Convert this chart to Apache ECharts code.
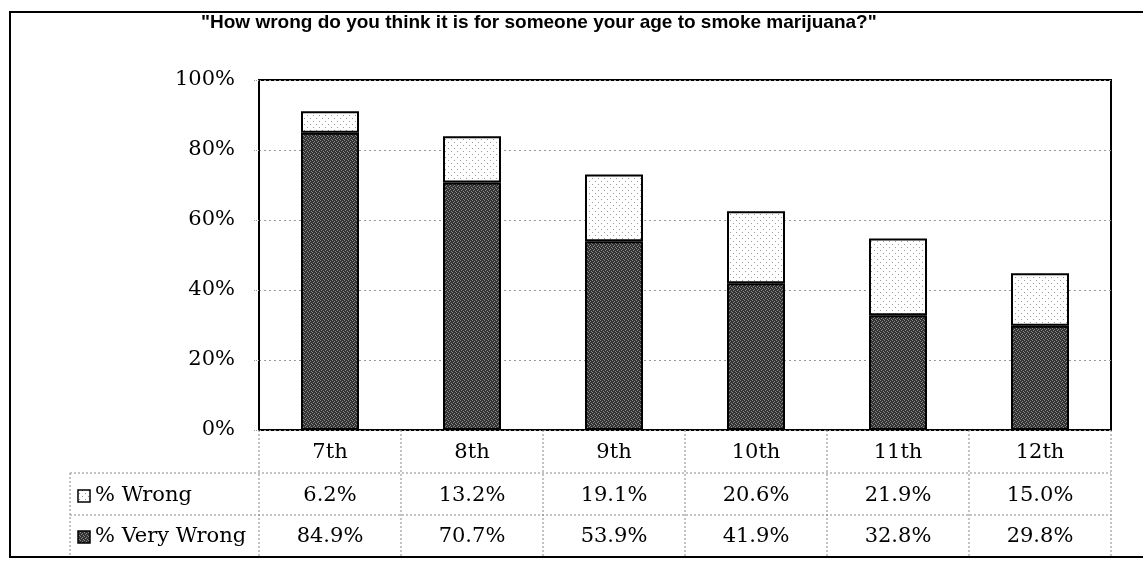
<!DOCTYPE html>
<html><head><meta charset="utf-8">
<script src="https://cdn.jsdelivr.net/npm/echarts@6/dist/echarts.min.js"></script>
<style>html,body{margin:0;padding:0;background:#fff}#c{width:1143px;height:561px}</style>
</head><body><div id="c"></div>
<script>
const titleText = '"How wrong do you think it is for someone your age to smoke marijuana?"';
const categories = ['7th','8th','9th','10th','11th','12th'];
const seriesNames = ['% Wrong','% Very Wrong'];
const wrong = [6.2, 13.2, 19.1, 20.6, 21.9, 15.0];
const veryWrong = [84.9, 70.7, 53.9, 41.9, 32.8, 29.8];
const yTicks = [0, 20, 40, 60, 80, 100];

function makePattern(kind){
  const c = document.createElement('canvas');
  if(kind==='dark'){
    c.width=4;c.height=4;const g=c.getContext('2d');
    g.fillStyle='#333333';g.fillRect(0,0,4,4);
    g.fillStyle='#8a8a8a';
    [[0,0],[2,1],[1,2],[3,3]].forEach(p=>g.fillRect(p[0],p[1],1,1));
  } else {
    c.width=6;c.height=6;const g=c.getContext('2d');
    g.fillStyle='#ffffff';g.fillRect(0,0,6,6);
    g.fillStyle='#9a9a9a';
    [[1,1],[4,4]].forEach(p=>g.fillRect(p[0],p[1],1,1));
  }
  return {image:c, repeat:'repeat'};
}
const darkFill = makePattern('dark');
const lightFill = makePattern('light');

const G = {left:259, right:1111, top:80, bottom:430};
const serif = 'DejaVu Serif';
const FS = 21;
const chart = echarts.init(document.getElementById('c'));

const colW = (G.right-G.left)/categories.length;
const rowLines = [473, 515];
const graphics = [];
graphics.push({type:'rect', shape:{x:10,y:12,width:1150,height:545}, style:{fill:'none',stroke:'#000',lineWidth:2}, silent:true});
rowLines.forEach(y=>graphics.push({type:'line', shape:{x1:70,y1:y,x2:G.right,y2:y}, style:{stroke:'#888',lineWidth:1,lineDash:[2,2]}}));
for(let i=0;i<=categories.length;i++){
  const x = G.left + i*colW;
  graphics.push({type:'line', shape:{x1:x,y1:G.bottom,x2:x,y2:557}, style:{stroke:'#888',lineWidth:1,lineDash:[2,2]}});
}
graphics.push({type:'line', shape:{x1:70,y1:473,x2:70,y2:557}, style:{stroke:'#888',lineWidth:1,lineDash:[2,2]}});
const rowCenters = [496, 537];
const fills = [lightFill, darkFill];
seriesNames.forEach((n,i)=>{
  graphics.push({type:'rect', shape:{x:78,y:rowCenters[i]-6,width:12,height:12}, style:{fill:fills[i],stroke:'#000',lineWidth:1.5}});
  graphics.push({type:'text', x:95, y:rowCenters[i], style:{text:n, font:FS+'px "DejaVu Serif"', fill:'#000', verticalAlign:'middle', align:'left'}});
});

chart.setOption({
  animation:false,
  backgroundColor:'#fff',
  title:{text:titleText, left:196, top:8, textStyle:{fontFamily:'Liberation Sans', fontWeight:'bold', fontSize:19, color:'#000'}},
  grid:{left:G.left, right:1143-G.right, top:G.top, bottom:561-G.bottom, show:true, borderColor:'#000', borderWidth:2, backgroundColor:'#fff'},
  xAxis:[
    {type:'category', data:categories, axisLine:{show:false}, axisTick:{show:false},
     axisLabel:{fontFamily:serif, fontSize:FS, color:'#000', margin:12}},
    {type:'category', data:categories, position:'bottom', offset:43, axisLine:{show:false}, axisTick:{show:false},
     axisLabel:{fontFamily:serif, fontSize:FS, color:'#000', margin:12, formatter:(v,i)=>wrong[i].toFixed(1)+'%'}},
    {type:'category', data:categories, position:'bottom', offset:84, axisLine:{show:false}, axisTick:{show:false},
     axisLabel:{fontFamily:serif, fontSize:FS, color:'#000', margin:12, formatter:(v,i)=>veryWrong[i].toFixed(1)+'%'}}
  ],
  yAxis:{type:'value', min:yTicks[0], max:yTicks[yTicks.length-1], interval:20,
    axisLine:{show:true, lineStyle:{color:'#000', width:2}},
    axisTick:{show:true, length:5, lineStyle:{color:'#999', type:'dotted'}},
    axisLabel:{formatter:'{value}%', fontFamily:serif, fontSize:FS, color:'#000', margin:24},
    splitLine:{show:true, lineStyle:{color:'#999', type:[2,3], width:1}}},
  series:[
    {name:seriesNames[1], type:'bar', stack:'s', data:veryWrong, barWidth:58, xAxisIndex:0,
     itemStyle:{color:darkFill, borderColor:'#000', borderWidth:2}},
    {name:seriesNames[0], type:'bar', stack:'s', data:wrong, barWidth:58, xAxisIndex:0,
     itemStyle:{color:lightFill, borderColor:'#000', borderWidth:2}}
  ],
  graphic:graphics
});
</script></body></html>
